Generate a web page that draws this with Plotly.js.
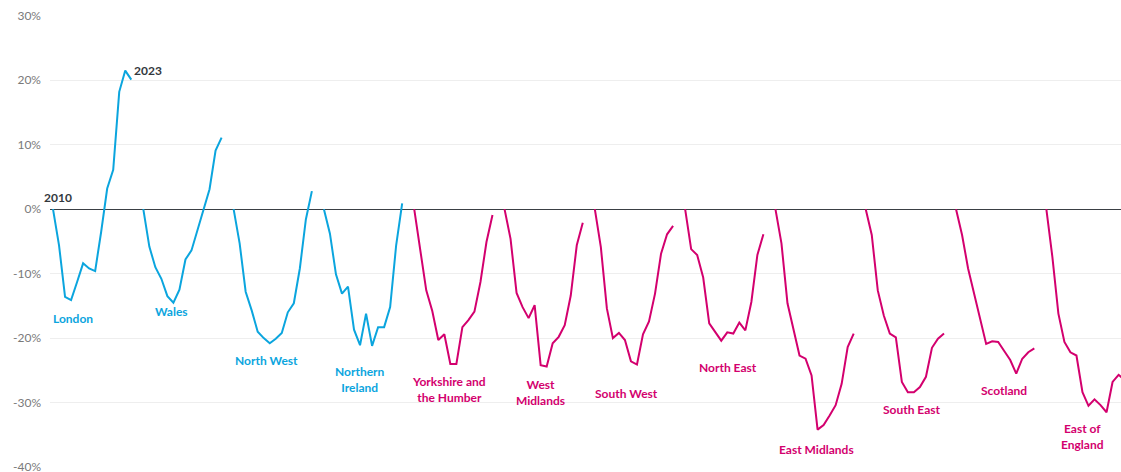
<!DOCTYPE html>
<html>
<head>
<meta charset="utf-8">
<script src="https://cdn.plot.ly/plotly-3.0.1.min.js"></script>
<style>
html,body{margin:0;padding:0;background:#fff;}
#chart{width:1121px;height:472px;}
</style>
</head>
<body>
<div id="chart"></div>
<script>
// Years 2010..2023
const years = [2010,2011,2012,2013,2014,2015,2016,2017,2018,2019,2020,2021,2022,2023];
const regions = ["London","Wales","North West","Northern Ireland","Yorkshire and the Humber","West Midlands","South West","North East","East Midlands","South East","Scotland","East of England"];
const regionLabels = ["London","Wales","North West","Northern<br>Ireland","Yorkshire and<br>the Humber","West<br>Midlands","South West","North East","East Midlands","South East","Scotland","East of<br>England"];
const london = [0,-5.6,-13.6,-14.1,-11.3,-8.4,-9.2,-9.6,-3.5,3.2,6.1,18.2,21.5,20.1];
const wales = [0,-5.8,-9.0,-10.8,-13.5,-14.5,-12.5,-7.8,-6.4,-3.3,-0.3,3.1,9.1,11.1];
const northWest = [0,-5.3,-12.8,-15.7,-19.0,-20.0,-20.8,-20.1,-19.2,-16.0,-14.6,-9.2,-1.6,2.8];
const northernIreland = [0,-3.8,-10.1,-13.1,-12.0,-18.7,-21.1,-16.2,-21.2,-18.3,-18.3,-15.2,-5.6,0.9];
const yorkshire = [0,-6.4,-12.6,-15.8,-20.3,-19.4,-24.0,-24.0,-18.3,-17.2,-15.9,-11.3,-5.1,-0.9];
const westMidlands = [0,-4.6,-13.0,-15.2,-16.9,-14.9,-24.2,-24.4,-20.8,-19.8,-18.0,-13.4,-5.6,-2.1];
const southWest = [0,-5.9,-15.4,-20.0,-19.2,-20.3,-23.6,-24.1,-19.4,-17.4,-13.1,-6.9,-3.9,-2.6];
const northEast = [0,-6.2,-7.1,-10.6,-17.7,-19.0,-20.4,-19.1,-19.3,-17.6,-18.8,-14.4,-7.1,-3.9];
const eastMidlands = [0,-5.3,-14.6,-18.7,-22.7,-23.2,-25.8,-34.2,-33.5,-32.0,-30.4,-27.1,-21.4,-19.3];
const southEast = [0,-4.0,-12.6,-16.5,-19.3,-19.9,-26.8,-28.4,-28.4,-27.6,-26.0,-21.5,-20.1,-19.3];
const scotland = [0,-4.0,-9.2,-13.1,-17.2,-20.9,-20.5,-20.6,-22.0,-23.4,-25.5,-23.2,-22.2,-21.6];
const eastOfEngland = [0,-7.4,-16.2,-20.6,-22.2,-22.7,-28.4,-30.5,-29.5,-30.4,-31.5,-26.8,-25.7,-26.5];
const seriesValues = [london,wales,northWest,northernIreland,yorkshire,westMidlands,southWest,northEast,eastMidlands,southEast,scotland,eastOfEngland];
const tickValues = [30,20,10,0,-10,-20,-30,-40];
const tickLabels = ["30%","20%","10%","0%","-10%","-20%","-30%","-40%"];

// label placement (offset within group in year-slots, value in %)
const labelOffsetX = [3.3,4.76,5.4,6.0,5.8,6.0,5.3,7.1,6.9,7.6,7.9,6.0];
const labelY = [-16.9,-15.8,-23.4,-26.4,-28.0,-28.4,-28.6,-24.5,-37.3,-31.1,-28.1,-35.2];

const BLUE = "#0ba5de";
const PINK = "#d3006e";
const slotsPerGroup = years.length + 1;

const traces = seriesValues.map((vals, i) => ({
  type: "scatter",
  mode: "lines",
  name: regions[i],
  x: years.map((y, j) => i * slotsPerGroup + j),
  y: vals,
  line: {color: i < 4 ? BLUE : PINK, width: 2},
  hoverinfo: "name+y",
  text: years.map(String)
}));

const font = "Lato, 'Open Sans', sans-serif";
const annotations = regions.map((r, i) => ({
  x: i * slotsPerGroup + labelOffsetX[i],
  y: labelY[i],
  xref: "x", yref: "y",
  text: "<b>" + regionLabels[i] + "</b>",
  showarrow: false,
  xanchor: "center", yanchor: "middle",
  font: {family: font, size: 12, color: i < 4 ? BLUE : PINK},
  align: "center"
}));
annotations.push({
  x: 0.78, y: 1.8, xref: "x", yref: "y",
  text: "<b>" + years[0] + "</b>", showarrow: false,
  xanchor: "center", yanchor: "middle",
  font: {family: font, size: 12, color: "#33383d"}
});
annotations.push({
  x: 15.8, y: 21.5, xref: "x", yref: "y",
  text: "<b>" + years[years.length-1] + "</b>", showarrow: false,
  xanchor: "center", yanchor: "middle",
  font: {family: font, size: 12, color: "#33383d"}
});

const layout = {
  width: 1121, height: 472,
  margin: {l: 50, r: 0, t: 15, b: 4},
  paper_bgcolor: "#fff", plot_bgcolor: "#fff",
  showlegend: false,
  xaxis: {range: [-0.5, 177.4], showgrid: false, zeroline: false, showticklabels: false, ticks: "", showline: false},
  yaxis: {
    range: [-40.15, 30.12], tickvals: tickValues, ticktext: tickLabels,
    showgrid: true, gridcolor: "#eeeeee", gridwidth: 1,
    zeroline: true, zerolinecolor: "#3a3f44", zerolinewidth: 1,
    tickfont: {family: font, size: 12, color: "#7a7a7a"},
    ticklabeloverflow: "allow",
    ticks: "", ticklabelstandoff: 8, showline: false
  },
  annotations: annotations,
  font: {family: font}
};

Plotly.newPlot("chart", traces, layout, {displayModeBar: false, staticPlot: true});
</script>
</body>
</html>
